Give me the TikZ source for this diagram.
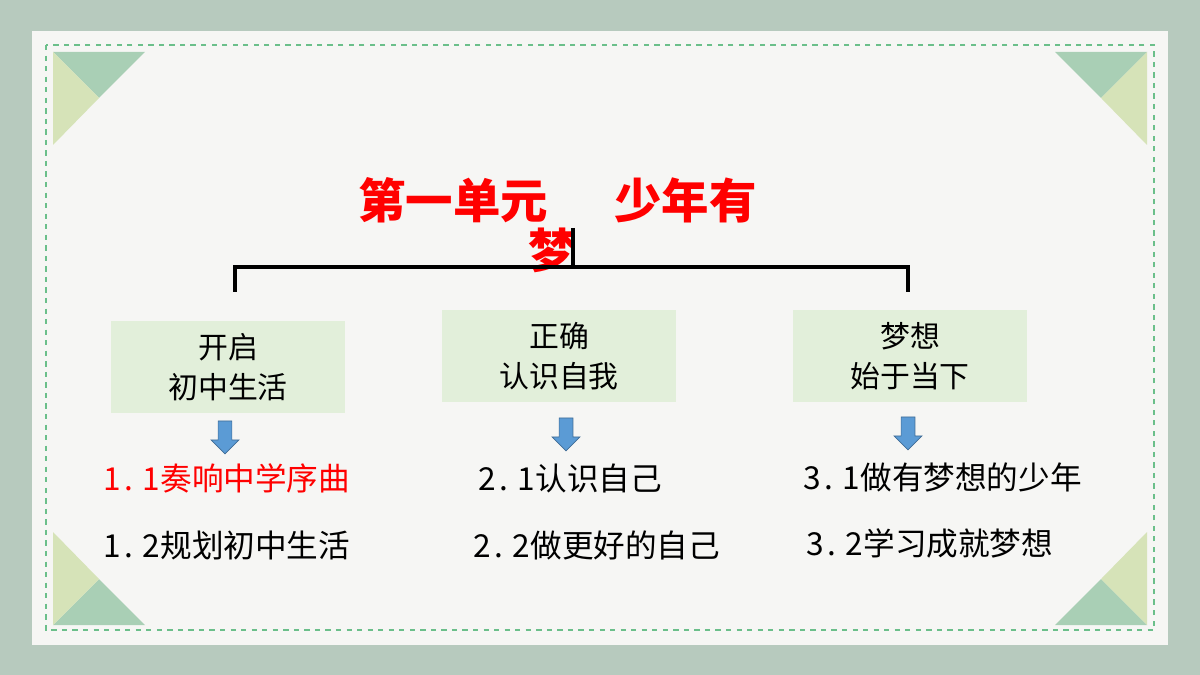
\documentclass[tikz,border=0pt]{standalone}
\usepackage{fontspec}
\setmainfont{Noto Sans CJK SC}
\usetikzlibrary{shapes.arrows}
\definecolor{bgcol}{HTML}{B7CABE}
\definecolor{paper}{HTML}{F6F6F4}
\definecolor{boxcol}{HTML}{E2EFDA}
\definecolor{tgreen}{HTML}{A9CFB5}
\definecolor{tyellow}{HTML}{D6E3B8}
\definecolor{dashcol}{HTML}{6BBF8A}
\definecolor{arrcol}{HTML}{5B9BD5}
\newcommand{\num}[2]{#1\hspace{0.12em}.\hspace{0.3em}#2}
\tikzset{
  topic/.style={fill=boxcol,minimum width=4.7cm,minimum height=1.85cm,align=center,font=\fontsize{17}{23}\selectfont},
  item/.style={anchor=west,font=\fontsize{18}{20}\selectfont},
  downarrow/.style={single arrow,shape border rotate=270,fill=arrcol,draw=arrcol!70!black,minimum width=0.56cm,single arrow head extend=0.1cm,minimum height=0.66cm,inner sep=0.09cm},
  corner/.pic={
    \fill[tgreen] (0,0) -- (92,0) -- (46,46) -- cycle;
    \fill[tyellow] (0,0) -- (46,46) -- (0,93) -- cycle;
  }
}
\begin{document}
\begin{tikzpicture}[x=0.02cm,y=-0.02cm]
\useasboundingbox (0,0) rectangle (1200,675);
\fill[bgcol] (0,0) rectangle (1200,675);
\fill[paper] (32,31) rectangle (1168,645);
\draw[dashcol,dashed,line width=0.8pt] (46,45) rectangle (1154,630);
% corners
\pic at (53,52) {corner};
\pic[xscale=-1] at (1147,52) {corner};
\pic[yscale=-1] at (53,625) {corner};
\pic[xscale=-1,yscale=-1] at (1147,625) {corner};
% title
\node[red,font=\fontsize{27}{29}\bfseries\selectfont,anchor=west,inner sep=0pt] (title1) at (358,200) {第一单元\hspace{1.4em}少年有};
\node[red,font=\fontsize{27}{29}\bfseries\selectfont] (title2) at (552,250) {梦};
% brace
\coordinate (bl) at (235,292);
\coordinate (br) at (908,292);
\coordinate (bt) at (573,228);
\draw[line width=2.5pt] (bl) -- (235,267) -- (908,267) -- (br);
\draw[line width=2.5pt] (bt) -- (573,267);
% boxes
\node[topic] (t1) at (228,367) {开启\\初中生活};
\node[topic] (t2) at (559,356) {正确\\认识自我};
\node[topic] (t3) at (910,356) {梦想\\始于当下};
\node[downarrow] (a1) at (225,434) {};
\node[downarrow] (a2) at (566,431) {};
\node[downarrow] (a3) at (908,430) {};
% items
\node[item,red] (i11) at (97,478) {\num11奏响中学序曲};
\node[item] (i12) at (97,545) {\num12规划初中生活};
\node[item] (i21) at (472,478) {\num21认识自己};
\node[item] (i22) at (467,545) {\num22做更好的自己};
\node[item] (i31) at (797,477) {\num31做有梦想的少年};
\node[item] (i32) at (800,543) {\num32学习成就梦想};
\end{tikzpicture}
\end{document}
